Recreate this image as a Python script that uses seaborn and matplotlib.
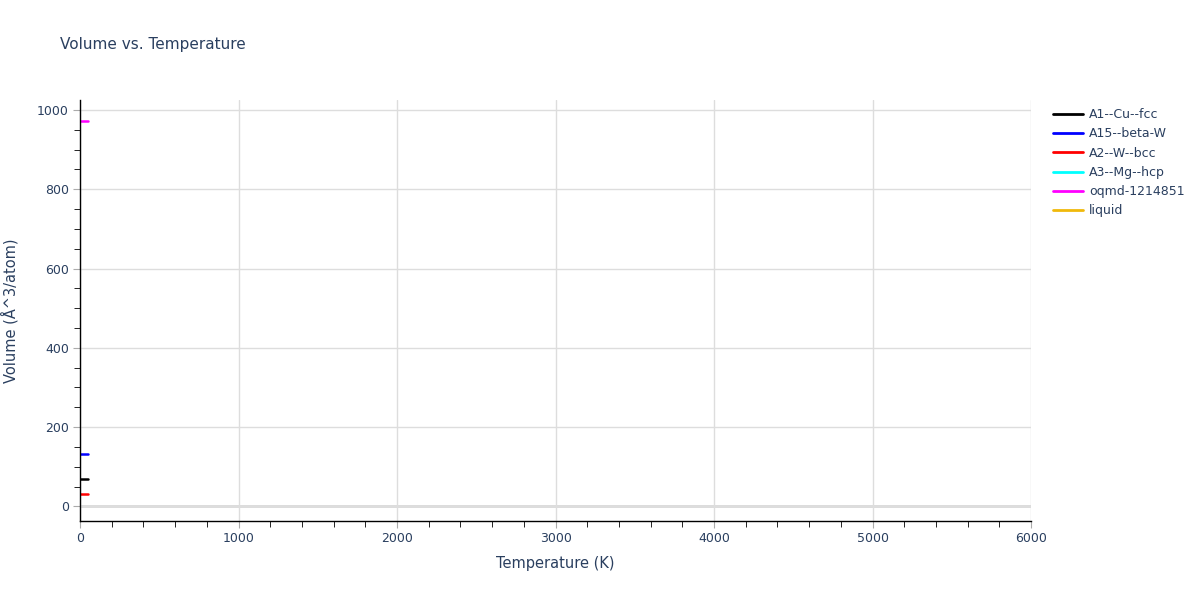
import pandas as pd
import seaborn as sns
import matplotlib
matplotlib.use("Agg")
import matplotlib.pyplot as plt
from matplotlib.ticker import MultipleLocator

# phases and their (temperature, volume) values
phases = ["A1--Cu--fcc", "A15--beta-W", "A2--W--bcc", "A3--Mg--hcp", "oqmd-1214851", "liquid"]
colors = ["black", "blue", "red", "cyan", "magenta", "#f0b90b"]

temps = [0, 25, 50]
vol_a1 = [70.0, 70.0, 70.0]
vol_a15 = [133.0, 133.0, 133.0]
vol_a2 = [32.0, 32.0, 32.0]
vol_oqmd = [973.0, 973.0, 973.0]

rows = []
for name, vols in [("A1--Cu--fcc", vol_a1), ("A15--beta-W", vol_a15),
                   ("A2--W--bcc", vol_a2), ("oqmd-1214851", vol_oqmd)]:
    for t, v in zip(temps, vols):
        rows.append({"Temperature": t, "Volume": v, "phase": name})
df = pd.DataFrame(rows)

sns.set_style("white")
plt.rcParams["font.family"] = ["DejaVu Sans"]
txt = "#2a3f5f"

fig = plt.figure(figsize=(12, 6), dpi=100)
ax = fig.add_axes([0.0667, 0.1317, 0.7925, 0.7017])

sns.lineplot(data=df, x="Temperature", y="Volume", hue="phase",
             hue_order=phases, palette=dict(zip(phases, colors)),
             linewidth=1.8, ax=ax, legend=False)

ax.set_xlim(0, 6000)
ax.set_ylim(-36.6, 1025)
ax.xaxis.set_major_locator(MultipleLocator(1000))
ax.xaxis.set_minor_locator(MultipleLocator(200))
ax.yaxis.set_major_locator(MultipleLocator(200))
ax.yaxis.set_minor_locator(MultipleLocator(50))
ax.grid(True, which="major", color="#dddddd", linewidth=1)
ax.axhline(0, color="#d8d8d8", linewidth=2, zorder=0)
for s in ["top", "right"]:
    ax.spines[s].set_visible(False)
for s in ["left", "bottom"]:
    ax.spines[s].set_color("black")
    ax.spines[s].set_linewidth(1)
ax.tick_params(which="both", bottom=True, left=True, direction="out")
ax.tick_params(which="major", length=5, color="#aaaaaa", labelcolor=txt, labelsize=9, pad=3)
ax.tick_params(which="minor", length=4, color="black")
ax.set_xlabel("Temperature (K)", color=txt, fontsize=10.5, labelpad=8)
ax.set_ylabel("Volume (Å^3/atom)", color=txt, fontsize=10.5, labelpad=13)

fig.text(0.05, 0.925, "Volume vs. Temperature", color=txt, fontsize=11, va="center")

handles = [plt.Line2D([], [], color=c, linewidth=2) for c in colors]
fig.legend(handles, phases, loc="upper left", bbox_to_anchor=(0.873, 0.828),
           frameon=False, fontsize=9, labelcolor=txt, handlelength=2.4,
           handletextpad=0.5, labelspacing=0.5, borderaxespad=0)

fig.savefig("out.png", dpi=100)
